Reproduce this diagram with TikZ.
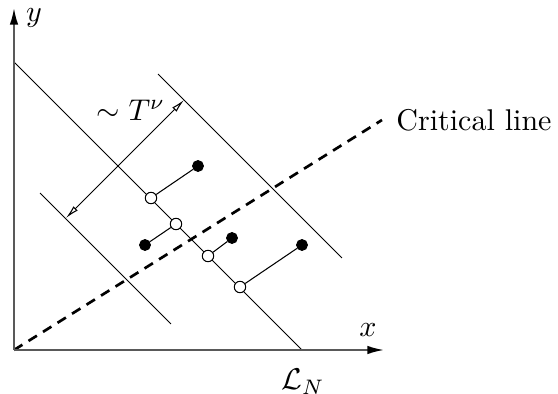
\documentclass[tikz,border=0pt]{standalone}
\usetikzlibrary{arrows.meta}
\begin{document}
\begin{tikzpicture}[x=0.3333pt,y=-0.3333pt,
  axis/.style={draw=black!65,line width=0.6pt,-{Latex[length=5.5pt,width=2.8pt,color=black]}},
  thinline/.style={draw=black,line width=0.35pt},
  crit/.style={draw=black,line width=0.9pt,dash pattern=on 3.3pt off 2.4pt},
  opendot/.style={circle,draw=black,fill=white,line width=0.35pt,inner sep=0pt,minimum size=3.8pt},
  fulldot/.style={circle,draw=black,fill=black,line width=0.35pt,inner sep=0pt,minimum size=3.6pt},
  span/.style={draw=black,line width=0.35pt,{Latex[open,length=4.5pt,width=2pt]}-{Latex[open,length=4.5pt,width=2pt]}}]
\useasboundingbox (0,0) rectangle (558,394);
\coordinate (O) at (14,350);
\coordinate (Y) at (14,8);
\coordinate (X) at (384,350);
\coordinate (C) at (382,120);
\coordinate (L1) at (14,62);
\coordinate (L2) at (302,350);
\coordinate (U1) at (158,74);
\coordinate (U2) at (342,258);
\coordinate (D1) at (40,193);
\coordinate (D2) at (171,324);
\coordinate (A1) at (66,218);
\coordinate (A2) at (184,100);
% lines
\draw[thinline] (L1) -- (L2);
\draw[thinline] (U1) -- (U2);
\draw[thinline] (D1) -- (D2);
\draw[crit] (O) -- (C);
\draw[span] (A1) -- (A2);
% axes
\draw[axis] (O) -- (Y);
\draw[axis] (O) -- (X);
% dots
\node[opendot] (o1) at (151,198) {};
\node[opendot] (o2) at (176,224) {};
\node[opendot] (o3) at (208,256) {};
\node[opendot] (o4) at (240,287) {};
\node[fulldot] (f1) at (198,166) {};
\node[fulldot] (f2) at (145,245) {};
\node[fulldot] (f3) at (232,238) {};
\node[fulldot] (f4) at (302,245) {};
\draw[thinline] (o1) -- (f1);
\draw[thinline] (o2) -- (f2);
\draw[thinline] (o3) -- (f3);
\draw[thinline] (o4) -- (f4);
% labels
\node (ylab) at (34,18) {$y$};
\node (xlab) at (368,330) {$x$};
\node (clab) at (474,120) {Critical line};
\node (lnlab) at (303,382) {$\mathcal{L}_N$};
\node (tlab) at (131,110) {$\sim T^\nu$};
\end{tikzpicture}
\end{document}
